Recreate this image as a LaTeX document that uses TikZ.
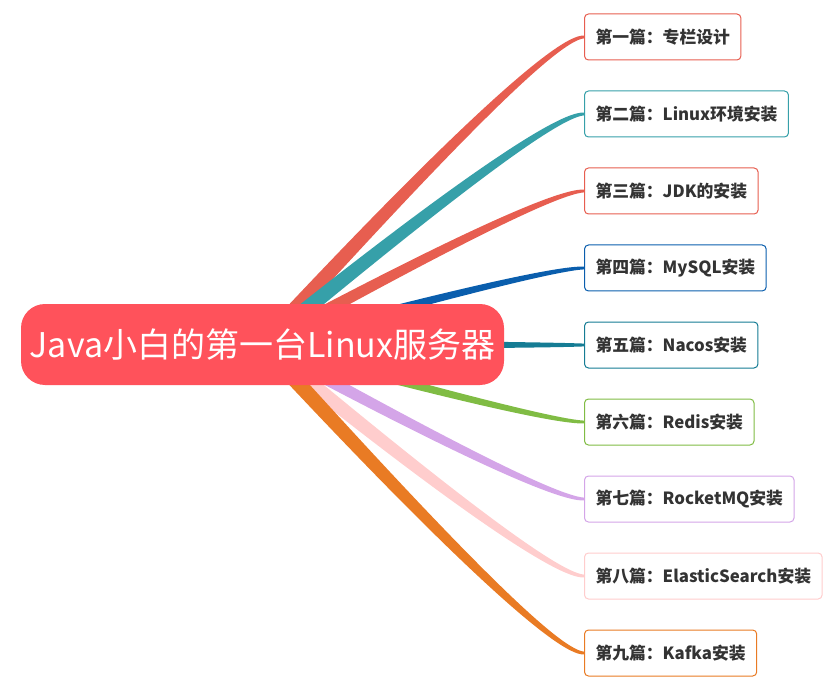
\documentclass[tikz,border=0pt]{standalone}
\usepackage{fontspec}
\setmainfont{Noto Sans CJK SC}
\usetikzlibrary{calc, positioning, backgrounds}

\definecolor{RootRot}{HTML}{FF525B}	%Farbe des Zentralthemas
\definecolor{TextGrau}{HTML}{333333}	%Schriftfarbe der Kapitel
\definecolor{cA}{HTML}{E75E50}
\definecolor{cB}{HTML}{36A0A9}
\definecolor{cD}{HTML}{0A5EAD}
\definecolor{cE}{HTML}{157C94}
\definecolor{cF}{HTML}{80BC44}
\definecolor{cG}{HTML}{D4A5E8}
\definecolor{cH}{HTML}{FFCDCD}
\definecolor{cI}{HTML}{E97B24}

\begin{document}
\begin{tikzpicture}
			[
			x=1pt, y=-1pt,
			Wurzel/.style={fill=RootRot, text=white, rounded corners=24pt, minimum width=483pt, minimum height=81pt, inner sep=0pt, font=\fontsize{34}{40}\selectfont},	%Zentralthema
			Kapitel/.style={draw, fill=white, rounded corners=4pt, line width=1pt, minimum height=46pt, inner xsep=11pt, anchor=west, text=TextGrau, font=\fontsize{16.8}{20}\selectfont\bfseries}	%Kapitelkasten
			]
			
			\def\EndBreite{1.4}	%Halbe Astbreite am Kasten
			\useasboundingbox (0,0) rectangle (825,695);
			
			% Zentralthema
			\node[Wurzel] (root) at (262.5,344.5) {Java小白的第一台Linux服务器};
			
			% Kapitel
			\node[Kapitel, draw=cA] (p1) at (584,37)  {第一篇：专栏设计};
			\node[Kapitel, draw=cB] (p2) at (584,114) {第二篇：Linux环境安装};
			\node[Kapitel, draw=cA] (p3) at (584,191) {第三篇：JDK的安装};
			\node[Kapitel, draw=cD] (p4) at (584,268) {第四篇：MySQL安装};
			\node[Kapitel, draw=cE] (p5) at (584,345) {第五篇：Nacos安装};
			\node[Kapitel, draw=cF] (p6) at (584,422) {第六篇：Redis安装};
			\node[Kapitel, draw=cG] (p7) at (584,499) {第七篇：RocketMQ安装};
			\node[Kapitel, draw=cH] (p8) at (584,576) {第八篇：ElasticSearch安装};
			\node[Kapitel, draw=cI] (p9) at (584,653) {第九篇：Kafka安装};
			
			% Aeste (spitz zulaufend), hinter dem Zentralthema
			\begin{scope}[on background layer]
			\foreach \ziel/\farbe/\breite in {p1/cA/8, p2/cB/8, p3/cA/6.5, p4/cD/5, p5/cE/5, p6/cF/5, p7/cG/6.5, p8/cH/8, p9/cI/8}{
				\pgfmathsetmacro\wa{(2*\breite+\EndBreite)/3}	%Breite beim 1. Kontrollpunkt
				\pgfmathsetmacro\wb{(\breite+2*\EndBreite)/3}	%Breite beim 2. Kontrollpunkt
				\coordinate (Q)  at ($(\ziel.west)+(-39,0)$);		%Kontrollpunkt
				\coordinate (C1) at ($(root.center)!0.667!(Q)$);
				\coordinate (C2) at ($(\ziel.west)!0.667!(Q)$);
				\fill[\farbe] ($(root.center)!\breite pt!90:(Q)$)
					.. controls ($(C1)!\wa pt!90:(Q)$) and ($(C2)+(0,-\wb)$) .. ($(\ziel.west)+(0,-\EndBreite)$)
					-- ($(\ziel.west)+(0,\EndBreite)$)
					.. controls ($(C2)+(0,\wb)$) and ($(C1)!\wa pt!-90:(Q)$) .. ($(root.center)!\breite pt!-90:(Q)$) -- cycle;
			}
			\end{scope}
		\end{tikzpicture}
\end{document}
